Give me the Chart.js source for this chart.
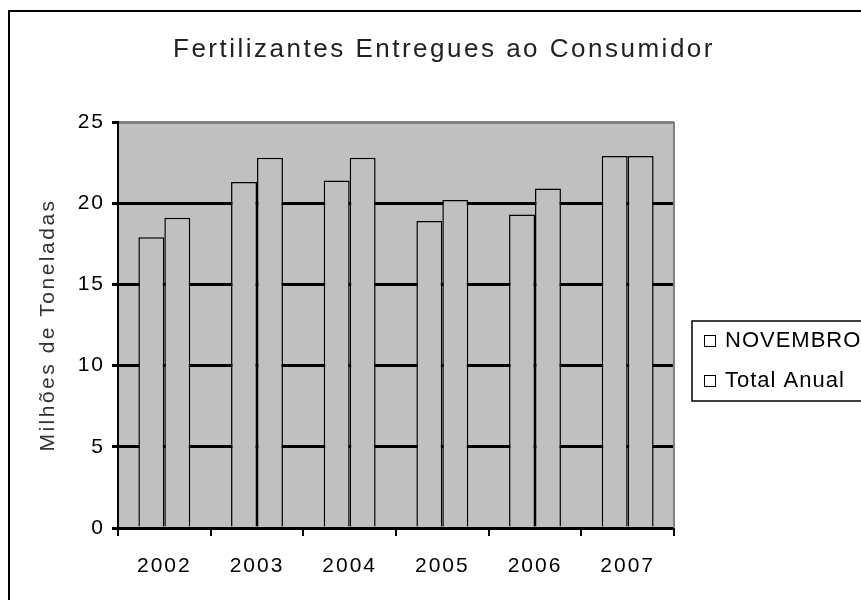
<!DOCTYPE html>
<html lang="pt">
<head>
<meta charset="utf-8">
<title>Fertilizantes Entregues ao Consumidor</title>
<script src="https://cdn.jsdelivr.net/npm/chart.js@4/dist/chart.umd.min.js"></script>
<style>
    body { margin: 0; background: #fff; }
    #wrap { width: 861px; height: 600px; }
</style>
</head>
<body>
<div id="wrap"><canvas id="grafico" width="861" height="600"></canvas></div>
<script>
// Dados
const anos = ['2002', '2003', '2004', '2005', '2006', '2007'];
const novembro = [17.9, 21.3, 21.4, 18.9, 19.3, 22.9];
const totalAnual = [19.1, 22.8, 22.8, 20.2, 20.9, 22.9];
const nomesSeries = ['NOVEMBRO', 'Total Anual'];
const tituloGrafico = 'Fertilizantes Entregues ao Consumidor';
const tituloEixoY = 'Milhões de Toneladas';

const fonte = '"Liberation Sans", Arial, sans-serif';

// Fundo, moldura e textos extras
const molduraPlugin = {
    id: 'moldura',
    beforeDraw(chart) {
        const ctx = chart.ctx;
        const a = chart.chartArea;
        ctx.save();
        ctx.fillStyle = '#fff';
        ctx.fillRect(0, 0, chart.width, chart.height);
        ctx.strokeStyle = '#000';
        ctx.lineWidth = 2;
        ctx.strokeRect(9, 11, chart.width + 20, chart.height + 20);
        ctx.fillStyle = '#c0c0c0';
        ctx.fillRect(a.left, a.top, a.right - a.left, a.bottom - a.top);
        ctx.restore();
        ctx.letterSpacing = '2px'; // textos dos eixos mais espaçados
    },
    beforeDatasetsDraw(chart) {
        const ctx = chart.ctx;
        const a = chart.chartArea;
        ctx.save();
        ctx.strokeStyle = '#808080';
        ctx.lineWidth = 2;
        ctx.beginPath();
        ctx.moveTo(a.right, a.top);
        ctx.lineTo(a.right, a.bottom);
        ctx.stroke();
        ctx.restore();
    },
    afterDraw(chart) {
        const ctx = chart.ctx;
        const a = chart.chartArea;
        ctx.save();

        // titulo
        ctx.letterSpacing = '2.5px';
        ctx.fillStyle = '#222';
        ctx.font = '26px ' + fonte;
        ctx.textAlign = 'center';
        ctx.textBaseline = 'middle';
        ctx.fillText(tituloGrafico, 444, 50);

        // titulo do eixo Y
        ctx.save();
        ctx.translate(48, (a.top + a.bottom) / 2);
        ctx.rotate(-Math.PI / 2);
        ctx.font = '21px ' + fonte;
        ctx.fillStyle = '#333';
        ctx.fillText(tituloEixoY, 0, 0);
        ctx.restore();

        // legenda
        ctx.letterSpacing = '1px';
        ctx.strokeStyle = '#000';
        ctx.lineWidth = 1.5;
        ctx.strokeRect(692, 321, 200, 80);
        ctx.font = '22px ' + fonte;
        ctx.textAlign = 'left';
        chart.data.datasets.forEach((ds, i) => {
            const y = 340 + i * 40;
            ctx.fillStyle = '#fff';
            ctx.fillRect(704, y - 5, 11, 11);
            ctx.lineWidth = 1;
            ctx.strokeRect(704.5, y - 4.5, 11, 11);
            ctx.fillStyle = '#000';
            ctx.fillText(ds.label, 725, y + 1);
        });
        ctx.restore();
    }
};

const ctx = document.getElementById('grafico').getContext('2d');
const grafico = new Chart(ctx, {
    type: 'bar',
    data: {
        labels: anos,
        datasets: [
            {
                label: nomesSeries[0],
                data: novembro,
                backgroundColor: '#c0c0c0',
                borderColor: '#000',
                borderWidth: 1.5
            },
            {
                label: nomesSeries[1],
                data: totalAnual,
                backgroundColor: '#c0c0c0',
                borderColor: '#000',
                borderWidth: 1.5
            }
        ]
    },
    options: {
        responsive: false,
        animation: false,
        layout: { padding: { top: 122, right: 187, left: 0, bottom: 0 } },
        datasets: {
            bar: { categoryPercentage: 0.56, barPercentage: 1 }
        },
        plugins: {
            legend: { display: false },
            title: { display: false },
            tooltip: { enabled: false }
        },
        scales: {
            x: {
                afterFit(scale) { scale.height = 72; },
                border: { display: true, color: '#000', width: 2 },
                grid: {
                    drawOnChartArea: false,
                    drawTicks: true,
                    tickLength: 8,
                    color: '#000',
                    lineWidth: 2
                },
                ticks: {
                    color: '#000',
                    font: { family: fonte, size: 21 },
                    padding: 18
                }
            },
            y: {
                min: 0,
                max: 25,
                afterFit(scale) { scale.width = 118; },
                border: { display: true, color: '#000', width: 2 },
                grid: {
                    color: (c) => (c.tick && c.tick.value === 25 ? '#808080' : '#000'),
                    tickColor: '#000',
                    lineWidth: 3,
                    tickLength: 6
                },
                ticks: {
                    stepSize: 5,
                    color: '#000',
                    font: { family: fonte, size: 21 },
                    padding: 7
                }
            }
        }
    },
    plugins: [molduraPlugin]
});
</script>
</body>
</html>
